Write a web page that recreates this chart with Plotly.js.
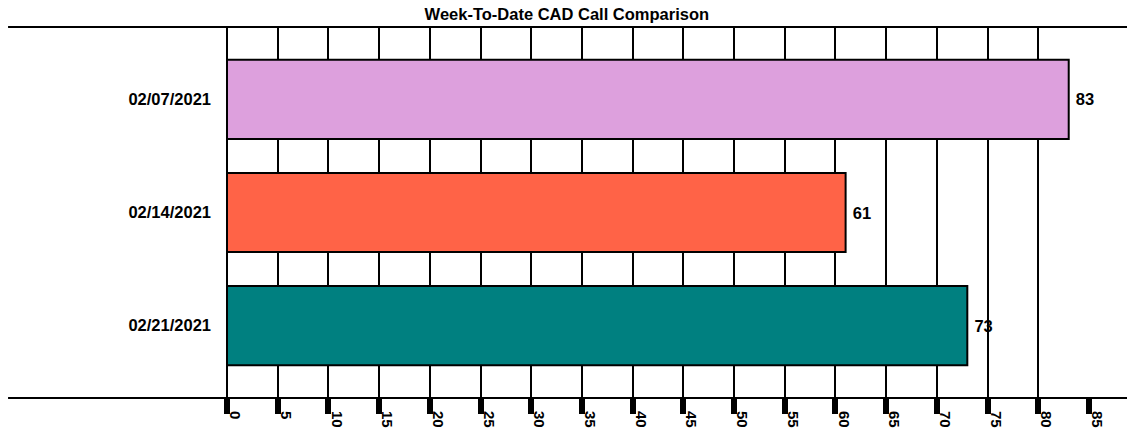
<!DOCTYPE html>
<html><head><meta charset="utf-8">
<script src="https://cdn.plot.ly/plotly-3.0.1.min.js"></script>
<style>html,body{margin:0;padding:0;background:#fff}#chart{width:1127px;height:430px}</style>
</head><body><div id="chart"></div>
<script>
const categories = ["02/07/2021", "02/14/2021", "02/21/2021"];
const values = [83, 61, 73];
const barColors = ["#DDA0DD", "#FF6347", "#008080"];
const tickVals = [0,5,10,15,20,25,30,35,40,45,50,55,60,65,70,75,80,85];

const font = "Liberation Sans, Arial, sans-serif";
const trace = {
  type: "bar", orientation: "h",
  y: categories, x: values,
  marker: {color: barColors, line: {color: "#000", width: 2}},
  width: 0.7,
  texttemplate: "\u2005%{x}", textposition: "outside", constraintext: "none",
  textfont: {family: font, size: 16.5, color: "#000", weight: "bold"},
  cliponaxis: false, hoverinfo: "none"
};
const layout = {
  width: 1127, height: 430,
  margin: {l: 227, r: 38, t: 27, b: 32},
  paper_bgcolor: "#fff", plot_bgcolor: "#fff",
  showlegend: false,
  title: {text: "<b>Week-To-Date CAD Call Comparison</b>", font: {family: font, size: 16.5, color: "#000"}, x: 0.503, xanchor: "center", y: 0.967, yanchor: "middle"},
  xaxis: {
    range: [0, 85], tickvals: tickVals, ticktext: tickVals.map(String),
    showgrid: true, gridcolor: "#000", gridwidth: 2,
    zeroline: true, zerolinecolor: "#000", zerolinewidth: 2,
    ticks: "outside", ticklen: 15, tickwidth: 6, tickcolor: "#000",
    tickangle: 90, ticklabelshift: 8, ticklabelstandoff: -6,
    tickfont: {family: font, size: 15, color: "#000", weight: "bold"},
    showline: false, fixedrange: true
  },
  yaxis: {
    categoryorder: "array", categoryarray: categories, autorange: false,
    range: [2.64, -0.64],
    showgrid: false, zeroline: false, showline: false,
    ticks: "", ticklabelstandoff: 15,
    tickfont: {family: font, size: 16.5, color: "#000", weight: "bold"}
  },
  shapes: [
    {type: "line", xref: "paper", yref: "paper", x0: -0.254, x1: 1.05, y0: 1, y1: 1, line: {color: "#000", width: 2}},
    {type: "line", xref: "paper", yref: "paper", x0: -0.254, x1: 1.05, y0: 0, y1: 0, line: {color: "#000", width: 2}}
  ]
};
Plotly.newPlot("chart", [trace], layout, {staticPlot: true, displayModeBar: false});
</script></body></html>
